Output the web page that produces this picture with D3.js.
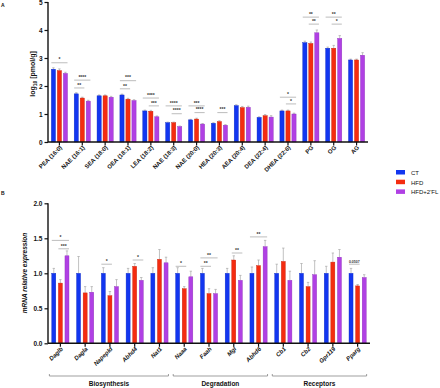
<!DOCTYPE html>
<html>
<head>
<meta charset="utf-8">
<script src="https://cdn.jsdelivr.net/npm/d3@7"></script>
<style>
  body { margin:0; background:#fff; }
  text { font-family:"Liberation Sans", Arial, sans-serif; font-weight:bold; fill:#111; }
</style>
</head>
<body>
<svg id="chart" width="440" height="388"></svg>
<script>
/* series */
var series = ["CT", "HFD", "HFD+2'FL"];
var colors = ["#1236f0", "#f42c10", "#b040e4"];

/* panel A : lipids */
var lipids = ["PEA (16:0)", "NAE (16:1)", "SEA (18:0)", "OEA (18:1)", "LEA (18:2)", "NAE (18:3)", "NAE (20:0)",
              "HEA (20:3)", "AEA (20:4)", "DEA (22:4)", "DHEA (22:6)", "PG", "OG", "AG"];
var lipidCT  = [2.60, 1.72, 1.65, 1.68, 1.11, 0.69, 0.79, 0.67, 1.30, 0.88, 1.11, 3.55, 3.35, 2.93];
var lipidHFD = [2.55, 1.57, 1.65, 1.53, 1.10, 0.69, 0.82, 0.73, 1.23, 0.94, 1.11, 3.52, 3.35, 2.93];
var lipidFL  = [2.45, 1.46, 1.60, 1.48, 0.90, 0.55, 0.64, 0.60, 1.24, 0.89, 1.00, 3.90, 3.70, 3.10];
var lipidErrCT  = [0.05, 0.04, 0.03, 0.03, 0.03, 0.02, 0.02, 0.02, 0.03, 0.02, 0.03, 0.05, 0.04, 0.03];
var lipidErrHFD = [0.06, 0.03, 0.03, 0.03, 0.03, 0.02, 0.03, 0.03, 0.04, 0.04, 0.03, 0.05, 0.10, 0.03];
var lipidErrFL  = [0.04, 0.03, 0.03, 0.03, 0.03, 0.02, 0.02, 0.02, 0.04, 0.05, 0.03, 0.10, 0.10, 0.09];
var lipidTicks = [0, 1, 2, 3, 4, 5];
// [category, series from, series to, label, bracket height]
var lipidSig = [
  ["PEA (16:0)", 0, 2, "*", 2.83],
  ["NAE (16:1)", 0, 1, "**", 1.93], ["NAE (16:1)", 0, 2, "****", 2.21],
  ["OEA (18:1)", 0, 1, "**", 1.90], ["OEA (18:1)", 0, 2, "***", 2.19],
  ["LEA (18:2)", 0, 2, "****", 1.57], ["LEA (18:2)", 1, 2, "***", 1.29],
  ["NAE (18:3)", 0, 2, "****", 1.29], ["NAE (18:3)", 1, 2, "****", 1.01],
  ["NAE (20:0)", 0, 2, "***", 1.29], ["NAE (20:0)", 1, 2, "****", 1.05],
  ["HEA (20:3)", 1, 2, "***", 1.05],
  ["DHEA (22:6)", 0, 2, "*", 1.60], ["DHEA (22:6)", 1, 2, "*", 1.36],
  ["PG", 0, 2, "**", 4.46], ["PG", 1, 2, "**", 4.21],
  ["OG", 0, 2, "**", 4.46], ["OG", 1, 2, "*", 4.21]
];

/* panel B : genes */
var genes = ["Daglb", "Dagla", "Napepld", "Abhd4", "Nat1", "Naaa", "Faah", "Mgl", "Abhd6", "Cb1", "Cb2", "Gpr119", "Pparg"];
var geneCT  = [1.00, 1.00, 1.00, 1.00, 1.00, 1.00, 1.00, 1.00, 1.00, 1.00, 1.00, 1.00, 1.00];
var geneHFD = [0.86, 0.72, 0.68, 1.10, 1.20, 0.78, 0.71, 1.19, 1.11, 1.17, 0.81, 1.16, 0.82];
var geneFL  = [1.25, 0.73, 0.81, 0.90, 1.15, 0.95, 0.71, 0.90, 1.38, 0.90, 0.98, 1.23, 0.94];
var geneErrCT  = [0.07, 0.24, 0.08, 0.07, 0.08, 0.08, 0.07, 0.07, 0.09, 0.13, 0.14, 0.10, 0.07];
var geneErrHFD = [0.05, 0.09, 0.06, 0.04, 0.14, 0.03, 0.07, 0.06, 0.08, 0.19, 0.06, 0.13, 0.02];
var geneErrFL  = [0.07, 0.08, 0.10, 0.04, 0.08, 0.08, 0.06, 0.07, 0.09, 0.13, 0.20, 0.11, 0.04];
var geneTicks = [0, 0.5, 1, 1.5, 2];
var geneGroups = [["Biosynthesis", "Daglb", "Nat1"], ["Degradation", "Naaa", "Abhd6"], ["Receptors", "Cb1", "Pparg"]];
var geneSig = [
  ["Daglb", 0, 2, "*", 1.47], ["Daglb", 1, 2, "***", 1.35],
  ["Napepld", 0, 1, "*", 1.13],
  ["Abhd4", 1, 2, "*", 1.19],
  ["Naaa", 0, 1, "*", 1.10],
  ["Faah", 0, 2, "**", 1.22], ["Faah", 0, 1, "**", 1.10],
  ["Mgl", 1, 2, "**", 1.29],
  ["Abhd6", 0, 2, "**", 1.52],
  ["Pparg", 0, 1, "0.0507", 1.13]
];

var svg = d3.select("#chart");

function drawPanel(opt) {
  var g = svg.append("g");
  var x = d3.scaleBand().domain(opt.cats).range(opt.xRange);
  var sub = d3.scaleBand().domain([0, 1, 2]).range([-opt.half, opt.half]).paddingInner(opt.pad);
  var y = d3.scaleLinear().domain(opt.yDomain).range(opt.yRange);

  var rows = [];
  opt.cats.forEach(function(c, i) {
    for (var s = 0; s < 3; s++) {
      rows.push({cat: c, s: s, v: opt.vals[s][i], e: opt.errs[s][i]});
    }
  });
  function bx(d) { return x(d.cat) + x.bandwidth() / 2 + sub(d.s); }

  // error bars (drawn behind bars)
  var eb = g.append("g").attr("stroke", "#a8a8a8").attr("stroke-width", 0.7);
  eb.selectAll("line.v").data(rows).enter().append("line")
    .attr("x1", function(d) { return bx(d) + sub.bandwidth() / 2; })
    .attr("x2", function(d) { return bx(d) + sub.bandwidth() / 2; })
    .attr("y1", function(d) { return y(d.v); })
    .attr("y2", function(d) { return y(d.v + d.e); });
  eb.selectAll("line.c").data(rows).enter().append("line")
    .attr("x1", function(d) { return bx(d) + sub.bandwidth() / 2 - 1.2; })
    .attr("x2", function(d) { return bx(d) + sub.bandwidth() / 2 + 1.2; })
    .attr("y1", function(d) { return y(d.v + d.e); })
    .attr("y2", function(d) { return y(d.v + d.e); });

  g.append("g").selectAll("rect").data(rows).enter().append("rect")
    .attr("x", bx)
    .attr("y", function(d) { return y(d.v); })
    .attr("width", sub.bandwidth())
    .attr("height", function(d) { return y(0) - y(d.v); })
    .attr("fill", function(d) { return colors[d.s]; })
    .attr("stroke", function(d) { return d3.color(colors[d.s]).darker(0.6); })
    .attr("stroke-width", 0.4);

  // significance brackets
  var sg = g.append("g");
  opt.sig.forEach(function(s) {
    var x1 = x(s[0]) + x.bandwidth() / 2 + sub(s[1]);
    var x2 = x(s[0]) + x.bandwidth() / 2 + sub(s[2]) + sub.bandwidth();
    var yy = y(s[4]);
    sg.append("line").attr("x1", x1).attr("x2", x2).attr("y1", yy).attr("y2", yy)
      .attr("stroke", "#a0a0a0").attr("stroke-width", 0.7);
    sg.append("text").attr("x", (x1 + x2) / 2).attr("y", yy - 1.3)
      .attr("text-anchor", "middle").style("font-size", s[3].length > 4 ? "3.5px" : "5px")
      .style("fill", "#333").text(s[3]);
  });

  // axes
  var yAxis = g.append("g").attr("transform", "translate(" + opt.xRange[0] + ",0)")
    .call(d3.axisLeft(y).tickValues(opt.ticks).tickSize(3.5).tickPadding(2).tickFormat(opt.fmt));
  var xAxis = g.append("g").attr("transform", "translate(0," + y(0) + ")")
    .call(d3.axisBottom(x).tickSize(3.5).tickFormat(""));
  [yAxis, xAxis].forEach(function(a) {
    a.select(".domain").attr("stroke", "#111").attr("stroke-width", 1.4);
    a.selectAll(".tick line").attr("stroke", "#111").attr("stroke-width", 1.2);
  });
  yAxis.select(".domain").attr("d", "M0," + opt.yRange[1] + "V" + opt.yRange[0]);
  xAxis.select(".domain").attr("d", "M" + opt.xRange[0] + ",0H" + opt.xRange[1]);
  yAxis.selectAll(".tick text").style("font-size", "6.5px").style("font-family", "Liberation Sans, Arial").style("font-weight", "bold").attr("fill", "#111");

  // rotated category labels
  g.append("g").selectAll("text").data(opt.cats).enter().append("text")
    .attr("transform", function(d) {
      return "translate(" + (x(d) + x.bandwidth() / 2 + 3) + "," + (y(0) + 6) + ") rotate(-45)";
    })
    .attr("text-anchor", "end")
    .style("font-size", "6px")
    .style("font-style", opt.italic ? "italic" : "normal")
    .text(function(d) { return d; });

  return {x: x, y: y};
}

var A = drawPanel({
  cats: lipids, xRange: [48, 368], yDomain: [0, 5], yRange: [142, 2],
  half: 8.1, pad: 0.3, ticks: lipidTicks, fmt: d3.format("d"),
  vals: [lipidCT, lipidHFD, lipidFL], errs: [lipidErrCT, lipidErrHFD, lipidErrFL],
  sig: lipidSig, italic: false
});

var B = drawPanel({
  cats: genes, xRange: [48, 370], yDomain: [0, 2], yRange: [343.3, 203.3],
  half: 8.6, pad: 0.39, ticks: geneTicks, fmt: d3.format(".1f"),
  vals: [geneCT, geneHFD, geneFL], errs: [geneErrCT, geneErrHFD, geneErrFL],
  sig: geneSig, italic: true
});

// axis titles
var ta = svg.append("text").attr("transform", "translate(35,74) rotate(-90)")
  .attr("text-anchor", "middle").style("font-size", "7px");
ta.append("tspan").text("log");
ta.append("tspan").attr("dy", 2).style("font-size", "5px").text("10");
ta.append("tspan").attr("dy", -2).text(" [pmol/g]");

svg.append("text").attr("transform", "translate(27,273) rotate(-90)")
  .attr("text-anchor", "middle").style("font-size", "6.5px").style("font-style", "italic")
  .text("mRNA relative expression");

// panel letters
svg.append("text").attr("x", 1).attr("y", 7).style("font-size", "5px").text("A");
svg.append("text").attr("x", 1).attr("y", 195).style("font-size", "5px").text("B");

// gene group brackets
var gb = svg.append("g");
geneGroups.forEach(function(gr) {
  var c1 = B.x(gr[1]) + B.x.bandwidth() / 2, c2 = B.x(gr[2]) + B.x.bandwidth() / 2;
  var x1 = c1 - 11, x2 = c2 + 9;
  var yy = 376;
  gb.append("path").attr("d", "M" + x1 + "," + (yy - 2) + "V" + yy + "H" + x2 + "V" + (yy - 2))
    .attr("fill", "none").attr("stroke", "#777").attr("stroke-width", 0.7);
  gb.append("text").attr("x", (x1 + x2) / 2).attr("y", 386).attr("text-anchor", "middle")
    .style("font-size", "6.5px").text(gr[0]);
});

// legend
var lg = svg.append("g").attr("transform", "translate(396,170)");
series.forEach(function(s, i) {
  lg.append("rect").attr("x", 0).attr("y", i * 9.7).attr("width", 9).attr("height", 4.5).attr("fill", colors[i]);
  lg.append("text").attr("x", 15).attr("y", i * 9.7 + 4.8).style("font-size", "6px").style("font-weight", "normal").text(s);
});
</script>
</body>
</html>
